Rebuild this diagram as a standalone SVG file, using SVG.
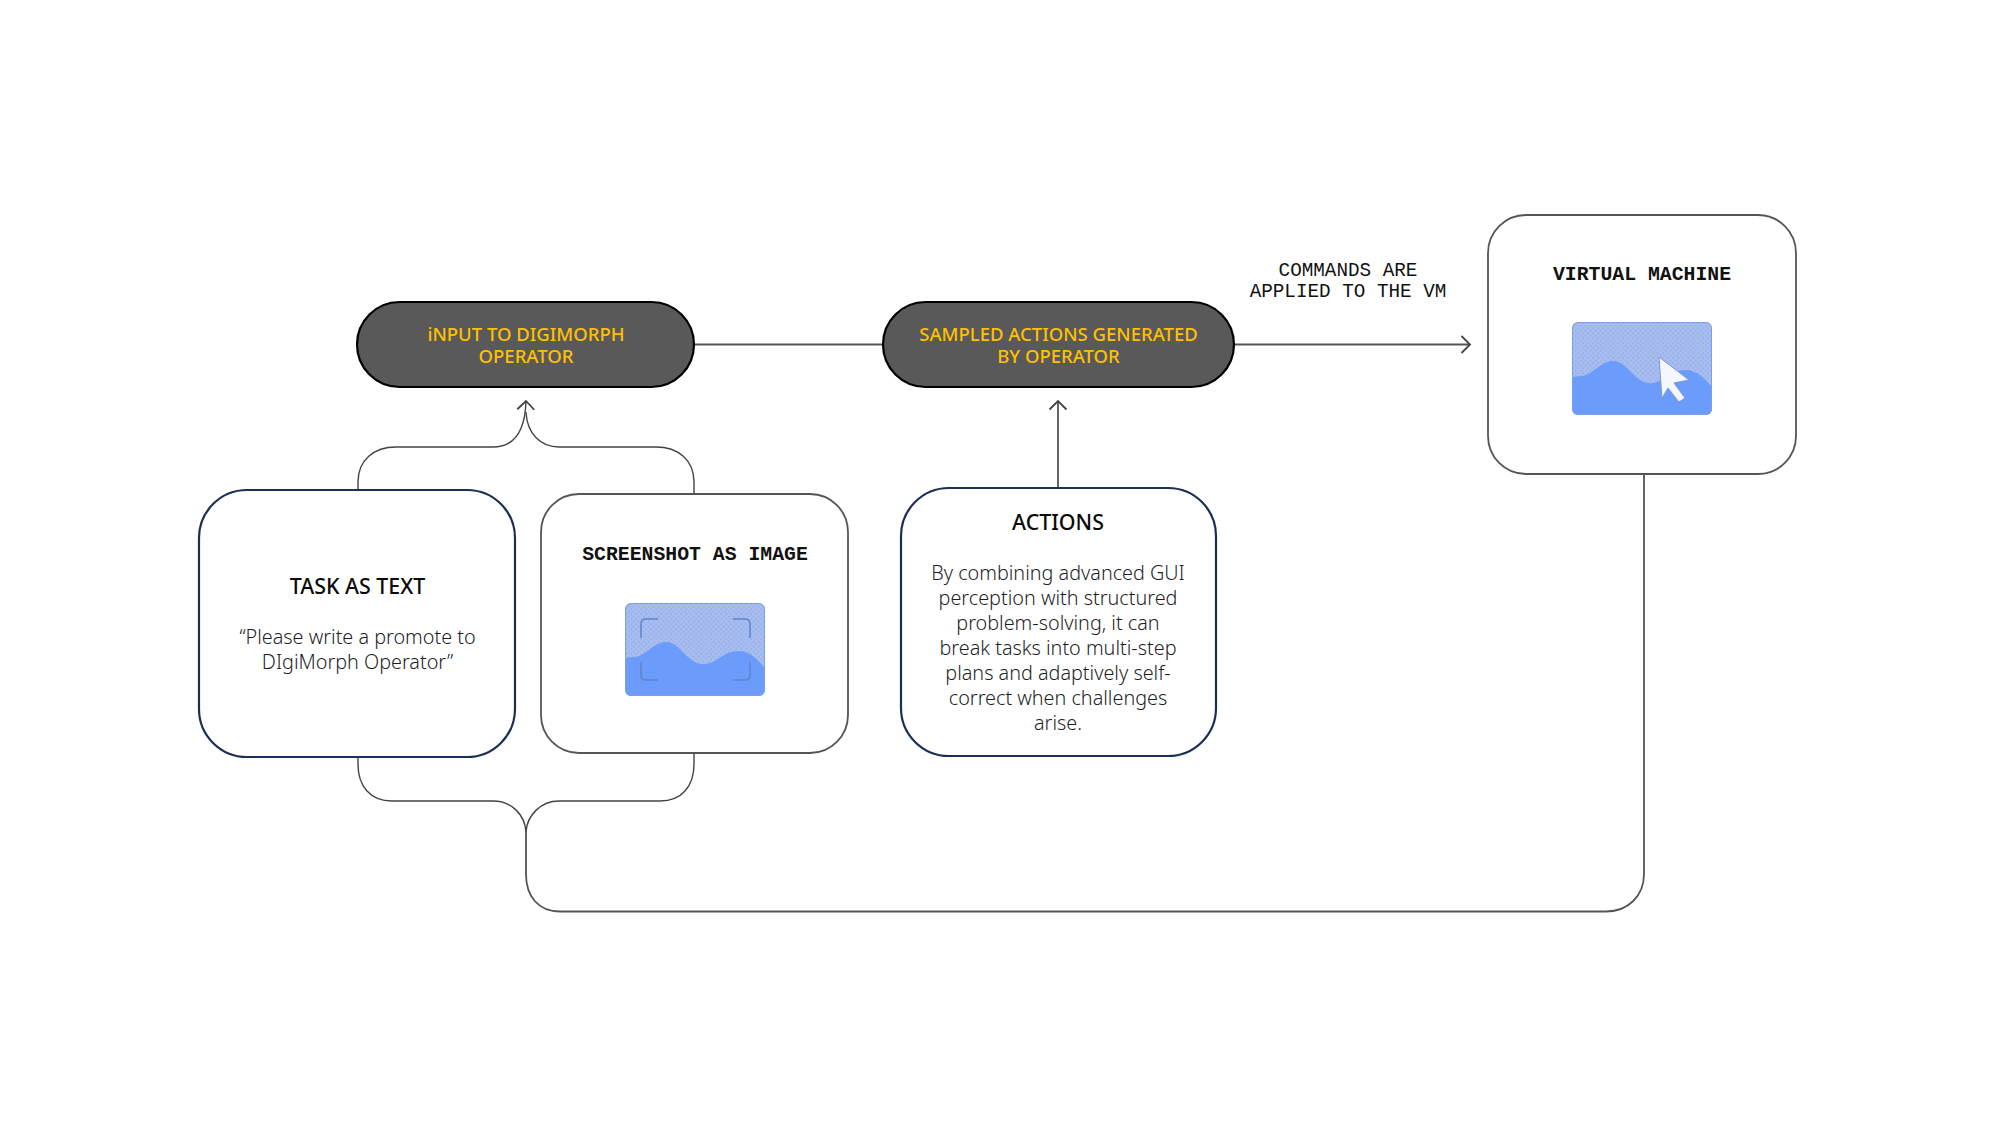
<svg xmlns="http://www.w3.org/2000/svg" width="2000" height="1125" viewBox="0 0 2000 1125">
<style>
text{text-anchor:middle}
.pill{fill:#595959;stroke:#000;stroke-width:2.2}
.navy{fill:#fff;stroke:#1b2f55;stroke-width:2.2}
.grey{fill:#fff;stroke:#555;stroke-width:1.8}
.conn{fill:none;stroke:#555;stroke-width:1.8}
.thin{fill:none;stroke:#444;stroke-width:1.4}
.py{font:500 18.5px "Noto Sans",sans-serif;fill:#ffc000}
.title{font:500 21.4px "Noto Sans",sans-serif;fill:#0a0a0a}
.body{font:300 19.8px "Noto Sans",sans-serif;fill:#1f1f1f}
.mb{font:700 19.8px "Liberation Mono",monospace;fill:#111}
.mr{font:400 19.3px "Liberation Mono",monospace;fill:#111}
</style>
<defs>
<marker id="arrow" markerUnits="userSpaceOnUse" markerWidth="20" markerHeight="20" refX="10" refY="10" orient="auto">
<path d="M1.500 1.500L10 10L1.500 18.500" fill="none" stroke="#444" stroke-width="1.8"/>
</marker>
<pattern id="dots" width="5" height="5" patternUnits="userSpaceOnUse">
<rect width="5" height="5" fill="#a8bdef"/>
<circle cx="1.200" cy="1.200" r="0.9" fill="#93ade8"/>
<circle cx="3.700" cy="3.700" r="0.9" fill="#93ade8"/>
</pattern>
<clipPath id="imgclip"><rect width="140" height="93" rx="6"/></clipPath>
<g id="pic">
<g clip-path="url(#imgclip)">
<rect width="140" height="93" fill="url(#dots)"/>
<path d="M0 55C6 54 12 55 18 51C26 46 32 39 41 39C55 39 60 58 76 61C90 63 98 48 113 48C125 48 132 56 140 65V93H0Z" fill="#6b9bfb"/>
</g>
<rect x="0.5" y="0.5" width="139" height="92" rx="6" fill="none" stroke="#7d9fe6" stroke-width="1"/>
</g>
</defs>
<rect width="2000" height="1125" fill="#fff"/>
<g id="connectors">
<path class="conn" d="M694 344.500H883"/>
<path class="conn" marker-end="url(#arrow)" d="M1234 344.500H1470"/>
<path class="conn" marker-end="url(#arrow)" d="M1058 488V401"/>
<path class="thin" marker-end="url(#arrow)" d="M358 490V482C358 460 374 447 396 447H493C512 447 525 434 526 401"/>
<path class="thin" d="M694 494V482C694 460 678 447 656 447H559C541 447 527 434 526 412"/>
<path class="thin" d="M358 757V764C358 786 370 801 392 801H493C512 801 525 815 526 832"/>
<path class="thin" d="M694 753V764C694 786 682 801 660 801H559C541 801 527 815 526 832"/>
<path class="conn" d="M526 830V874C526 896 538 911.500 560 911.500H1606C1628 911.500 1644 896 1644 874V474"/>
</g>
<g id="input-pill"><rect class="pill" x="357" y="302" width="337" height="85" rx="42.500"/>
<text class="py" x="526" y="341">iNPUT TO DIGIMORPH</text><text class="py" x="526" y="363">OPERATOR</text></g>
<g id="sampled-pill"><rect class="pill" x="883" y="302" width="351" height="85" rx="42.500"/>
<text class="py" x="1058.500" y="341">SAMPLED ACTIONS GENERATED</text><text class="py" x="1058.500" y="363">BY OPERATOR</text></g>
<g id="task-node"><rect class="navy" x="199" y="490" width="316" height="267" rx="48"/>
<text class="title" x="357.500" y="594">TASK AS TEXT</text>
<text class="body" x="357.500" y="644">“Please write a promote to</text>
<text class="body" x="357.500" y="669">DIgiMorph Operator”</text></g>
<g id="screenshot-node"><rect class="grey" x="541" y="494" width="307" height="259" rx="38"/>
<text class="mb" x="695" y="560">SCREENSHOT AS IMAGE</text>
<use href="#pic" x="625" y="603"/>
<path d="M641 638V624Q641 619 646 619H658M733 619H745Q750 619 750 624V638M641 662V675Q641 680 646 680H658M733 680H745Q750 680 750 675V662" fill="none" stroke="#5f83d0" stroke-width="1.500"/></g>
<g id="actions-node"><rect class="navy" x="901" y="488" width="315" height="268" rx="48"/>
<text class="title" x="1058" y="530">ACTIONS</text>
<text class="body" x="1058" y="580">By combining advanced GUI</text>
<text class="body" x="1058" y="605">perception with structured</text>
<text class="body" x="1058" y="630">problem-solving, it can</text>
<text class="body" x="1058" y="655">break tasks into multi-step</text>
<text class="body" x="1058" y="680">plans and adaptively self-</text>
<text class="body" x="1058" y="705">correct when challenges</text>
<text class="body" x="1058" y="730">arise.</text></g>
<g id="vm-node"><rect class="grey" x="1488" y="215" width="308" height="259" rx="38"/>
<text class="mb" x="1642" y="280">VIRTUAL MACHINE</text>
<use href="#pic" x="1572" y="322"/>
<path d="M1659 357L1689 380L1674 383L1685 398L1679 402L1668 388L1662 398Z" fill="#f4f7fd" stroke="#7f9ad0" stroke-width="1"/></g>
<g id="commands-label">
<text class="mr" x="1348" y="276">COMMANDS ARE</text>
<text class="mr" x="1348" y="297">APPLIED TO THE VM</text></g>
</svg>
